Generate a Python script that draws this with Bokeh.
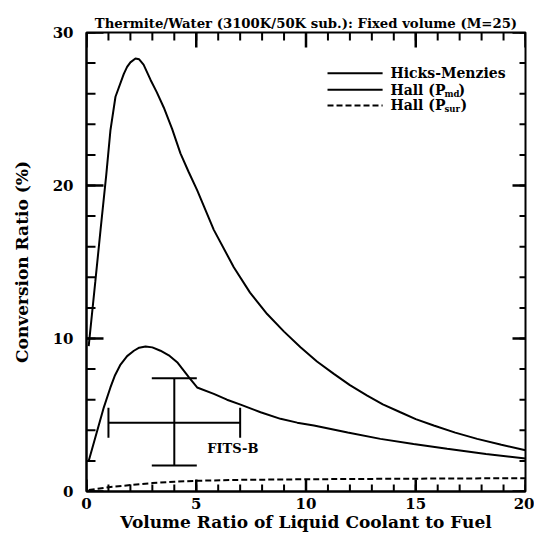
from bokeh.plotting import figure
from bokeh.models import (Range1d, FixedTicker, Whisker, TeeHead,
                          ColumnDataSource, Label)
from bokeh.core.properties import value
from bokeh.embed import file_html
from bokeh.resources import INLINE

# ---------------- data ----------------
hm_x = [0.1, 0.4, 0.64, 0.9, 1.09, 1.32, 1.7, 1.85, 2.0, 2.23, 2.4, 2.6, 2.92, 3.2,
        3.52, 3.9, 4.28, 4.65, 5.04, 5.8, 6.71, 7.45, 8.23, 9.0, 9.75, 10.5, 11.27,
        12.0, 12.79, 13.5, 14.3, 15.0, 15.82, 16.8, 17.8, 18.9, 20.0]
hm_y = [9.5, 13.7, 17.1, 20.7, 23.6, 25.8, 27.3, 27.75, 28.05, 28.3, 28.25, 27.9, 26.9, 26.1,
        25.1, 23.7, 22.1, 20.9, 19.7, 17.1, 14.66, 13.0, 11.6, 10.45, 9.43, 8.5, 7.69,
        6.95, 6.27, 5.7, 5.18, 4.73, 4.31, 3.85, 3.44, 3.05, 2.7]

pmd_x = [0.1, 0.79, 1.09, 1.3, 1.55, 1.85, 2.16, 2.4, 2.69, 3.0, 3.37, 3.75, 4.13, 4.66,
         5.04, 5.8, 6.4, 7.02, 7.93, 8.84, 9.6, 10.36, 11.9, 13.39, 14.9, 16.43, 18.2, 20.0]
pmd_y = [2.0, 5.5, 6.8, 7.6, 8.3, 8.85, 9.2, 9.4, 9.48, 9.42, 9.2, 8.9, 8.45, 7.47,
         6.8, 6.38, 6.0, 5.68, 5.18, 4.75, 4.5, 4.31, 3.85, 3.44, 3.1, 2.79, 2.45, 2.15]

psur_x = [0.1, 1, 2, 3, 4, 5, 7, 10, 15, 20]
psur_y = [0.1, 0.28, 0.42, 0.55, 0.64, 0.7, 0.76, 0.8, 0.84, 0.87]

fits_x = [4.0]
fits_y = [4.5]
fits_xlo = [1.0]
fits_xhi = [7.0]
fits_ylo = [1.7]
fits_yhi = [7.4]

x_major = [0, 5, 10, 15, 20]
x_minor = list(range(0, 21))
y_major = [0, 10, 20, 30]
y_minor = list(range(0, 31, 2))

X0, X1, Y0, Y1 = 0, 20, 0, 30
FONT = "DejaVu Serif"
TICK_COLOR = "black"

FRAME_W, FRAME_H = 439, 459
PXX = (X1 - X0) / FRAME_W
PXY = (Y1 - Y0) / FRAME_H

p = figure(width=534, height=534, x_range=Range1d(X0, X1), y_range=Range1d(Y0, Y1),
           output_backend="svg", toolbar_location=None,
           min_border_left=86, min_border_right=9, min_border_top=32, min_border_bottom=43)
p.grid.visible = False
p.outline_line_color = "black"
p.outline_line_width = 2

p.title.text = "Thermite/Water (3100K/50K sub.): Fixed volume (M=25)"
p.title.text_font = FONT
p.title.text_font_size = "13.25px"
p.title.text_font_style = "bold"
p.title.text_color = "black"
p.title.align = "center"
p.title.standoff = 4

for ax in (p.xaxis[0], p.yaxis[0]):
    ax.major_tick_out = 0
    ax.minor_tick_out = 0
    ax.major_tick_in = 0
    ax.minor_tick_in = 0
    ax.axis_line_width = 2
    ax.axis_line_color = "black"
    ax.major_label_text_font = FONT
    ax.major_label_text_font_style = "bold"
    ax.major_label_text_color = "black"
    ax.major_label_text_font_size = "15px"
    ax.axis_label_text_font = FONT
    ax.axis_label_text_font_style = "bold"
    ax.axis_label_text_font_size = "17px"
    ax.axis_label_text_color = "black"

xb = p.xaxis[0]
xb.ticker = FixedTicker(ticks=x_major, minor_ticks=x_minor)
xb.major_label_standoff = 6
xb.axis_label = "Volume Ratio of Liquid Coolant to Fuel"
xb.axis_label_standoff = 0

yl = p.yaxis[0]
yl.ticker = FixedTicker(ticks=y_major, minor_ticks=y_minor)
yl.major_label_standoff = 13
yl.axis_label = "Conversion Ratio (%)"
yl.axis_label_standoff = 18

# ---------------- inward ticks on all four edges (one multi_line) ----------------
tick_xs, tick_ys, tick_w = [], [], []
def add_x_ticks(xs, y_edge, length_px, lw):
    d = length_px * PXY * (1 if y_edge == Y0 else -1)
    for xv in xs:
        tick_xs.append([xv, xv]); tick_ys.append([y_edge, y_edge + d]); tick_w.append(lw)
def add_y_ticks(ys, x_edge, length_px, lw):
    d = length_px * PXX * (1 if x_edge == X0 else -1)
    for yv in ys:
        tick_xs.append([x_edge, x_edge + d]); tick_ys.append([yv, yv]); tick_w.append(lw)

add_x_ticks(x_minor, Y0, 7, 2)
add_x_ticks(x_major, Y0, 12, 2.5)
add_x_ticks(x_minor, Y1, 8, 2)
add_x_ticks(x_major, Y1, 15, 2.5)
add_y_ticks(y_minor, X0, 9, 2)
add_y_ticks(y_major, X0, 17, 2.5)
add_y_ticks(y_minor, X1, 6, 2)
add_y_ticks(y_major, X1, 13, 2.5)
p.multi_line(xs=tick_xs, ys=tick_ys, line_width=tick_w, line_color=TICK_COLOR)

# ---------------- curves ----------------
p.line(hm_x, hm_y, line_color="black", line_width=2)
p.line(pmd_x, pmd_y, line_color="black", line_width=2)
p.line(psur_x, psur_y, line_color="black", line_width=2, line_dash="6 3")

# ---------------- FITS-B error bars ----------------
src = ColumnDataSource(dict(x=fits_x, y=fits_y, xl=fits_xlo, xu=fits_xhi,
                            yl=fits_ylo, yu=fits_yhi))
p.add_layout(Whisker(base="x", lower="yl", upper="yu", dimension="height", source=src,
                     line_width=2, line_color="black",
                     lower_head=TeeHead(size=45, line_width=2),
                     upper_head=TeeHead(size=45, line_width=2)))
p.add_layout(Whisker(base="y", lower="xl", upper="xu", dimension="width", source=src,
                     line_width=2, line_color="black",
                     lower_head=TeeHead(size=30, line_width=2),
                     upper_head=TeeHead(size=30, line_width=2)))
p.add_layout(Label(x=5.5, y=2.8, text="FITS-B", text_font=FONT, text_font_style="bold",
                   text_font_size="13px", text_baseline="middle", text_align="left",
                   text_color="black"))

# ---------------- legend (manual) ----------------
LEG_X0, LEG_X1, LEG_TX = 10.98, 13.49, 13.85
LEG_ROWS = [27.34, 26.26, 25.23]
p.line([LEG_X0, LEG_X1], [LEG_ROWS[0]] * 2, line_color="black", line_width=2)
p.line([LEG_X0, LEG_X1], [LEG_ROWS[1]] * 2, line_color="black", line_width=2)
p.line([LEG_X0, LEG_X1], [LEG_ROWS[2]] * 2, line_color="black", line_width=2, line_dash="6 3")

tkw = dict(text_font=value(FONT), text_font_style="bold", text_color="black",
           text_baseline="middle", text_align="left")
p.text(x=[LEG_TX], y=[LEG_ROWS[0]], text=["Hicks-Menzies"], text_font_size="14px", **tkw)
p.text(x=[LEG_TX, LEG_TX], y=[LEG_ROWS[1], LEG_ROWS[2]], text=["Hall (P", "Hall (P"],
       text_font_size="14px", **tkw)
p.text(x=[LEG_TX], y=[LEG_ROWS[1]], text=["md"], text_font_size="8.5px",
       x_offset=54, y_offset=4, **tkw)
p.text(x=[LEG_TX], y=[LEG_ROWS[2]], text=["sur"], text_font_size="8.5px",
       x_offset=54, y_offset=4, **tkw)
p.text(x=[LEG_TX], y=[LEG_ROWS[1]], text=[")"], text_font_size="14px", x_offset=68, **tkw)
p.text(x=[LEG_TX], y=[LEG_ROWS[2]], text=[")"], text_font_size="14px", x_offset=70, **tkw)

open("out.html", "w").write(file_html(p, INLINE))
